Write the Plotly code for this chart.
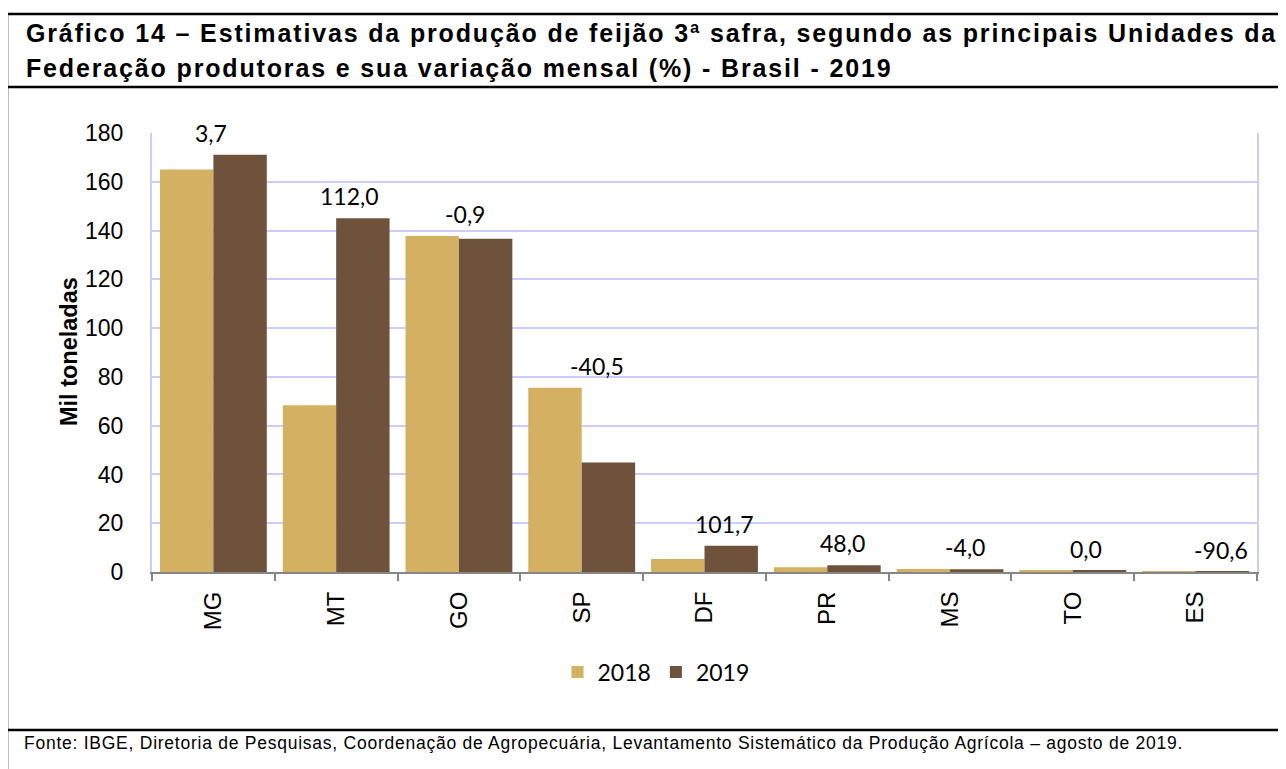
import plotly.graph_objects as go

ufs = ["MG", "MT", "GO", "SP", "DF", "PR", "MS", "TO", "ES"]
prod_2018 = [165.0, 68.4, 137.8, 75.5, 5.35, 1.9, 1.2, 0.5, 0.2]
prod_2019 = [171.1, 145.0, 136.6, 44.9, 10.8, 2.8, 1.15, 0.5, 0.02]
variacao = ["3,7", "112,0", "-0,9", "-40,5", "101,7", "48,0", "-4,0", "0,0", "-90,6"]

title_1 = "Gráfico 14 – Estimativas da produção de feijão 3ª safra, segundo as principais Unidades da"
title_2 = "Federação produtoras e sua variação mensal (%) - Brasil - 2019"
fonte = ("Fonte: IBGE, Diretoria de Pesquisas, Coordenação de Agropecuária, "
         "Levantamento Sistemático da Produção Agrícola – agosto de 2019.")

# the page body adds 8px around the figure, so work in screen pixels
OFF = 8
W, H = 1286 - OFF, 769 - OFF
# plot area (screen pixels)
L, R, T, B = 152, 1257, 133, 572


def px_x(x):
    return (x - L) / (R - L)


def px_y(y):
    return (B - y) / (B - T)


fig = go.Figure()

fig.add_trace(go.Bar(
    x=ufs, y=prod_2018, name="2018",
    marker=dict(color="#D3B062", line_width=0),
))
fig.add_trace(go.Bar(
    x=ufs, y=prod_2019, name="2019",
    marker=dict(color="#6F523B", line_width=0),
))

# variação mensal (%) above each pair of bars
for i, (uf, a, b, txt) in enumerate(zip(ufs, prod_2018, prod_2019, variacao)):
    fig.add_annotation(
        x=uf, y=max(a, b), text=txt,
        xref="x", yref="y",
        xanchor="left", yanchor="middle",
        xshift=-20 + 2.1 * i, yshift=22,
        showarrow=False,
        font=dict(family="Lato, Calibri, sans-serif", size=23, color="black"),
    )

fig.add_annotation(
    text="<b>Mil toneladas</b>", textangle=-90,
    x=px_x(69), y=px_y(352), xref="paper", yref="paper",
    xanchor="center", yanchor="middle",
    showarrow=False,
    font=dict(family="Liberation Sans, Arial", size=23.5, color="black"),
)

title_font = dict(family="Liberation Sans, Arial", size=25, color="black")
for txt, ypx in [(title_1, 33), (title_2, 68)]:
    fig.add_annotation(
        text='<b><span style="letter-spacing:1.85px">' + txt + "</span></b>",
        x=px_x(24), y=px_y(ypx), xref="paper", yref="paper",
        xanchor="left", yanchor="middle", showarrow=False,
        font=title_font,
    )
fig.add_annotation(
    text='<span style="letter-spacing:0.75px">' + fonte + "</span>",
    x=px_x(22), y=px_y(743), xref="paper", yref="paper",
    xanchor="left", yanchor="middle", showarrow=False,
    font=dict(family="Liberation Sans, Arial", size=17.5, color="black"),
)

# frame around the chart
frame = dict(type="line", xref="paper", yref="paper", line=dict(color="black", width=2.5))
fig.add_shape(x0=px_x(7), x1=px_x(1300), y0=px_y(14), y1=px_y(14), **frame)
fig.add_shape(x0=px_x(7), x1=px_x(1300), y0=px_y(87), y1=px_y(87), **frame)
fig.add_shape(x0=px_x(7), x1=px_x(1300), y0=px_y(730), y1=px_y(730), **frame)
fig.add_shape(x0=px_x(7), x1=px_x(7), y0=px_y(14), y1=px_y(790), **frame)

fig.update_layout(
    width=W, height=H,
    margin=dict(l=L - OFF, r=W - (R - OFF), t=T - OFF, b=H - (B - OFF), pad=0),
    barmode="group", bargap=0.13, bargroupgap=0,
    plot_bgcolor="white", paper_bgcolor="white",
    font=dict(family="Liberation Sans, Arial", size=23, color="black"),
    showlegend=True,
    legend=dict(
        orientation="h", x=px_x(656), y=px_y(672),
        xanchor="center", yanchor="middle",
        font=dict(family="Lato, Calibri, sans-serif", size=23),
        itemwidth=30, traceorder="normal",
    ),
)

fig.update_xaxes(
    showline=True, linecolor="#868686", linewidth=2,
    ticks="outside", tickson="boundaries", ticklen=7, tickcolor="#868686", tickwidth=2,
    tickangle=-90, ticklabelstandoff=8, tickfont_size=24,
    showgrid=False,
)
fig.update_yaxes(
    range=[0, 180], dtick=20,
    showline=True, linecolor="#CCCCFF", linewidth=2, mirror=True,
    gridcolor="#CCCCFF", gridwidth=2,
    zeroline=False, ticks="", ticklabelstandoff=22,
)

fig.write_html("out.html")
